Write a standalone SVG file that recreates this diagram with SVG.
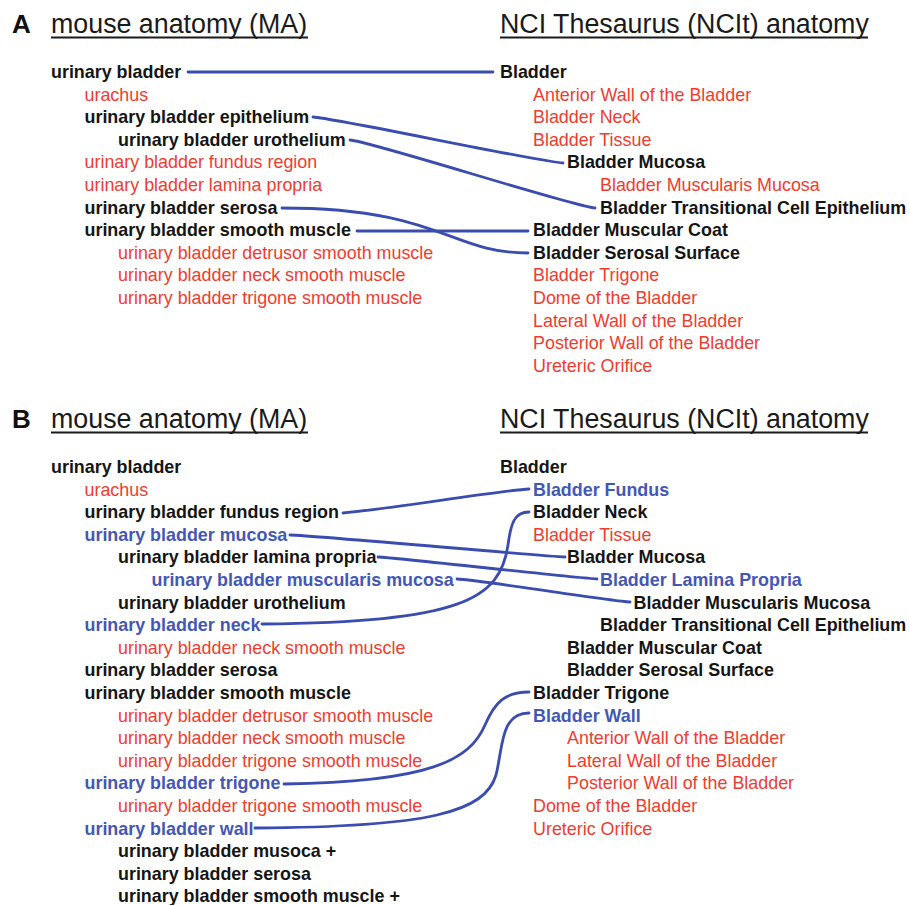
<svg xmlns="http://www.w3.org/2000/svg" width="909" height="905" viewBox="0 0 909 905">
<style>
text{font-family:"Liberation Sans",Arial,sans-serif;font-size:17.9px}
.b{font-weight:bold;fill:#151515}
.r{fill:#f03c2e}
.u{font-weight:bold;fill:#4357b6}
.h{font-size:26.8px;fill:#1a1a1a}
.l{font-size:26px;font-weight:bold;fill:#111}
.ul{stroke:#1a1a1a;stroke-width:2}
.c{fill:none;stroke:#3a4cb0;stroke-width:2.8;stroke-linecap:round}
</style>
<rect width="909" height="905" fill="#fff"/>
<g id="headerA">
<text class="l" x="12" y="33">A</text>
<text class="h" x="51" y="33">mouse anatomy (MA)</text>
<line class="ul" x1="51" y1="37.5" x2="308" y2="37.5"/>
<text class="h" x="500" y="33">NCI Thesaurus (NCIt) anatomy</text>
<line class="ul" x1="500" y1="37.5" x2="868" y2="37.5"/>
</g>
<g id="maA">
<text class="b" x="51" y="78">urinary bladder</text>
<text class="r" x="84.5" y="100.6">urachus</text>
<text class="b" x="84.5" y="123.2">urinary bladder epithelium</text>
<text class="b" x="118" y="145.8">urinary bladder urothelium</text>
<text class="r" x="84.5" y="168.4">urinary bladder fundus region</text>
<text class="r" x="84.5" y="191">urinary bladder lamina propria</text>
<text class="b" x="84.5" y="213.6">urinary bladder serosa</text>
<text class="b" x="84.5" y="236.2">urinary bladder smooth muscle</text>
<text class="r" x="118" y="258.8">urinary bladder detrusor smooth muscle</text>
<text class="r" x="118" y="281.4">urinary bladder neck smooth muscle</text>
<text class="r" x="118" y="304">urinary bladder trigone smooth muscle</text>
</g>
<g id="nciA">
<text class="b" x="500" y="78">Bladder</text>
<text class="r" x="533" y="100.6">Anterior Wall of the Bladder</text>
<text class="r" x="533" y="123.2">Bladder Neck</text>
<text class="r" x="533" y="145.8">Bladder Tissue</text>
<text class="b" x="567" y="168.4">Bladder Mucosa</text>
<text class="r" x="600" y="191">Bladder Muscularis Mucosa</text>
<text class="b" x="600" y="213.6">Bladder Transitional Cell Epithelium</text>
<text class="b" x="533" y="236.2">Bladder Muscular Coat</text>
<text class="b" x="533" y="258.8">Bladder Serosal Surface</text>
<text class="r" x="533" y="281.4">Bladder Trigone</text>
<text class="r" x="533" y="304">Dome of the Bladder</text>
<text class="r" x="533" y="326.6">Lateral Wall of the Bladder</text>
<text class="r" x="533" y="349.2">Posterior Wall of the Bladder</text>
<text class="r" x="533" y="371.8">Ureteric Orifice</text>
</g>
<g id="headerB">
<text class="l" x="12" y="428">B</text>
<text class="h" x="51" y="428">mouse anatomy (MA)</text>
<line class="ul" x1="51" y1="432.5" x2="308" y2="432.5"/>
<text class="h" x="500" y="428">NCI Thesaurus (NCIt) anatomy</text>
<line class="ul" x1="500" y1="432.5" x2="868" y2="432.5"/>
</g>
<g id="maB">
<text class="b" x="51" y="473">urinary bladder</text>
<text class="r" x="84.5" y="495.6">urachus</text>
<text class="b" x="84.5" y="518.2">urinary bladder fundus region</text>
<text class="u" x="84.5" y="540.8">urinary bladder mucosa</text>
<text class="b" x="118" y="563.4">urinary bladder lamina propria</text>
<text class="u" x="151.5" y="586">urinary bladder muscularis mucosa</text>
<text class="b" x="118" y="608.6">urinary bladder urothelium</text>
<text class="u" x="84.5" y="631.2">urinary bladder neck</text>
<text class="r" x="118" y="653.8">urinary bladder neck smooth muscle</text>
<text class="b" x="84.5" y="676.4">urinary bladder serosa</text>
<text class="b" x="84.5" y="699">urinary bladder smooth muscle</text>
<text class="r" x="118" y="721.6">urinary bladder detrusor smooth muscle</text>
<text class="r" x="118" y="744.2">urinary bladder neck smooth muscle</text>
<text class="r" x="118" y="766.8">urinary bladder trigone smooth muscle</text>
<text class="u" x="84.5" y="789.4">urinary bladder trigone</text>
<text class="r" x="118" y="812">urinary bladder trigone smooth muscle</text>
<text class="u" x="84.5" y="834.6">urinary bladder wall</text>
<text class="b" x="118" y="857.2">urinary bladder musoca +</text>
<text class="b" x="118" y="879.8">urinary bladder serosa</text>
<text class="b" x="118" y="902.4">urinary bladder smooth muscle +</text>
</g>
<g id="nciB">
<text class="b" x="500" y="473">Bladder</text>
<text class="u" x="533" y="495.6">Bladder Fundus</text>
<text class="b" x="533" y="518.2">Bladder Neck</text>
<text class="r" x="533" y="540.8">Bladder Tissue</text>
<text class="b" x="567" y="563.4">Bladder Mucosa</text>
<text class="u" x="600" y="586">Bladder Lamina Propria</text>
<text class="b" x="633.5" y="608.6">Bladder Muscularis Mucosa</text>
<text class="b" x="600" y="631.2">Bladder Transitional Cell Epithelium</text>
<text class="b" x="567" y="653.8">Bladder Muscular Coat</text>
<text class="b" x="567" y="676.4">Bladder Serosal Surface</text>
<text class="b" x="533" y="699">Bladder Trigone</text>
<text class="u" x="533" y="721.6">Bladder Wall</text>
<text class="r" x="567" y="744.2">Anterior Wall of the Bladder</text>
<text class="r" x="567" y="766.8">Lateral Wall of the Bladder</text>
<text class="r" x="567" y="789.4">Posterior Wall of the Bladder</text>
<text class="r" x="533" y="812">Dome of the Bladder</text>
<text class="r" x="533" y="834.6">Ureteric Orifice</text>
</g>
<g id="connectors">
<path class="c" d="M188,72 L493,72"/>
<path class="c" d="M313,117 C335,118 540,162 563,163"/>
<path class="c" d="M350,140 C370,141 575,207 595,208"/>
<path class="c" d="M282,208 C440,208 450,253 528,253"/>
<path class="c" d="M357,231 L528,231"/>
<path class="c" d="M343,513 C380,510 505,490 529,489"/>
<path class="c" d="M290,535 C320,536 540,556 565,557"/>
<path class="c" d="M378,557 C400,558 575,578 597,579"/>
<path class="c" d="M457,579 C480,580 610,601 630,602"/>
<path class="c" d="M262,624 C460,622 500,600 508,545 C511,522 515,512 529,512"/>
<path class="c" d="M284,784 C430,782 470,760 485,725 C495,702 505,692 529,692"/>
<path class="c" d="M255,828 C430,827 485,812 496,775 C503,748 500,713 529,713"/>
</g>
</svg>
